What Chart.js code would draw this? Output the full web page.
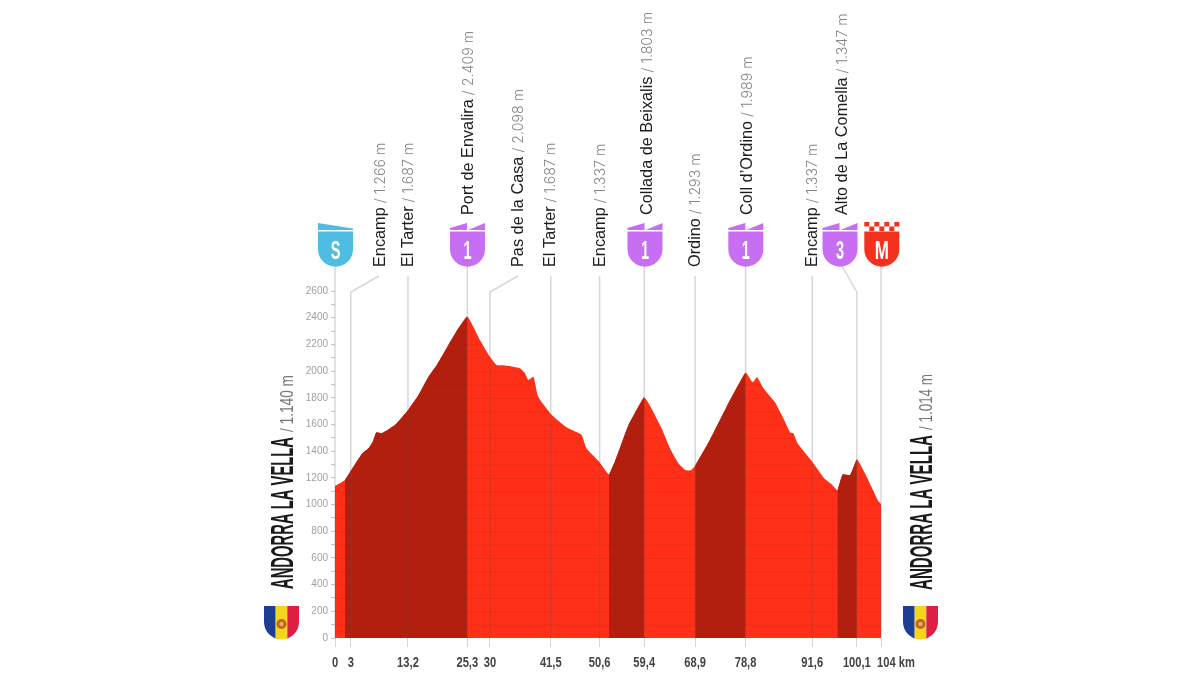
<!DOCTYPE html>
<html>
<head>
<meta charset="utf-8">
<title>Andorra la Vella - Andorra la Vella</title>
<script src="https://cdn.jsdelivr.net/npm/chart.js@4/dist/chart.umd.min.js"></script>
<style>
  html, body { margin: 0; padding: 0; background: #fff; overflow: hidden; }
  canvas { display: block; }
</style>
</head>
<body>
<canvas id="profile" width="1200" height="675"></canvas>
<script>
// profile
const profileKm = [0, 0.3, 1.9, 3.2, 5.1, 6.35, 7.2, 7.9, 8.9, 11.4, 14, 15.9, 17.8, 19.4, 21.6, 23.5, 25.2,
  27.6, 29.5, 30.8, 32.1, 35.2, 36.2, 36.8, 37.8, 38.7, 41.3, 44.1, 46.3, 47, 47.9, 50.3, 52.2,
  53.3, 54.6, 55.9, 57.1, 58.9, 60.6, 62.2, 63.8, 65.4, 66.7, 67.75, 68.6, 71.4, 74.6, 78.2,
  79.55, 80.4, 81.6, 83.8, 85.4, 86.7, 87.3, 88.1, 90.8, 93.3, 94.6, 95.7, 96.7, 98.1, 99.4, 100.95, 103.5, 104];
const elevation = [1140, 1146, 1184, 1264, 1379, 1421, 1471, 1541, 1534, 1596, 1713, 1821, 1958, 2046, 2195, 2320, 2409,
  2233, 2108, 2046, 2043, 2021, 1983, 1933, 1958, 1808, 1671, 1579, 1538, 1521, 1421, 1321, 1226,
  1321, 1459, 1596, 1684, 1803, 1696, 1571, 1421, 1309, 1259, 1256, 1291, 1484, 1733, 1989,
  1916, 1953, 1871, 1766, 1646, 1539, 1534, 1459, 1326, 1191, 1152, 1107, 1226, 1221, 1340, 1234, 1025, 1005];

// dark stretches: the categorised climbs [from, to]
const climbStart = [1.9, 52.2, 68.6, 95.7];
const climbEnd = [25.2, 58.9, 78.2, 99.4];

// km marks. The printed axis is not quite linear, so positions and labels are kept apart
const markKm = [0, 3, 13.9, 25.2, 29.5, 41.1, 50.4, 58.9, 68.6, 78.2, 90.9, 99.4, 104];
const markLabels = ['0', '3', '13,2', '25,3', '30', '41,5', '50,6', '59,4', '68,9', '78,8', '91,6', '100,1', '104 km'];

const placeNames = ['Encamp', 'El Tarter', 'Port de Envalira', 'Pas de la Casa', 'El Tarter', 'Encamp',
  'Collada de Beixalis', 'Ordino', 'Coll d’Ordino', 'Encamp', 'Alto de La Comella'];
const placeHeights = ['/ 1.266 m', '/ 1.687 m', '/ 2.409 m', '/ 2.098 m', '/ 1.687 m', '/ 1.337 m',
  '/ 1.803 m', '/ 1.293 m', '/ 1.989 m', '/ 1.337 m', '/ 1.347 m'];
const placeKm = [3, 13.9, 25.2, 29.5, 41.1, 50.4, 58.9, 68.6, 78.2, 90.9, 99.4];

const startName = 'ANDORRA LA VELLA';
const startHeight = '/ 1.140 m';
const finishName = 'ANDORRA LA VELLA';
const finishHeight = '/ 1.014 m';

const badgeLetters = ['S', '1', '1', '1', '3', 'M'];

const RED = '#ff2f18';
const DARK = '#b21f0f';
const PURPLE = '#c86ef2';
const BLUE = '#4fbde2';
const BADGE_RED = '#f4311d';

const SANS = '"Liberation Sans", Arial, sans-serif';
const LIGHT = 'Inter, "Liberation Sans", sans-serif';

// where the text sits in the picture (baseline x, start y)
const labelX = [385, 412.7, 473, 523, 555, 605, 651.7, 700, 751.7, 817, 846.7];
const labelY = [267, 267, 215, 267, 267, 267, 215, 267, 215, 267, 215];
const badgeX = [335.5, 467.5, 645, 745.8, 840, 881.8];

function points(from, to) {
  const out = [];
  profileKm.forEach((km, i) => {
    if (km >= from && km <= to) out.push({ x: km, y: elevation[i] });
  });
  return out;
}

// vertical text, reading upwards
function upText(ctx, text, x, y, font, color, length) {
  ctx.save();
  ctx.translate(x, y);
  ctx.rotate(-Math.PI / 2);
  ctx.font = font;
  ctx.fillStyle = color;
  ctx.textAlign = 'left';
  ctx.textBaseline = 'alphabetic';
  if (length) ctx.scale(length / ctx.measureText(text).width, 1);
  ctx.fillText(text, 0, 0);
  ctx.restore();
}

function shieldBody(ctx, cx, top) {
  const r = 17.5;
  const straight = 249.2;
  ctx.beginPath();
  ctx.moveTo(cx - r, top);
  ctx.lineTo(cx + r, top);
  ctx.lineTo(cx + r, straight);
  ctx.arc(cx, straight, r, 0, Math.PI);
  ctx.closePath();
}

function drawBadge(ctx, cx, letter) {
  const r = 17.5;
  const color = letter === 'S' ? BLUE : letter === 'M' ? BADGE_RED : PURPLE;
  ctx.fillStyle = color;
  shieldBody(ctx, cx, 231.5);
  ctx.fill();

  if (letter === 'S') {
    ctx.beginPath();
    ctx.moveTo(cx - r, 223);
    ctx.lineTo(cx + r, 228.5);
    ctx.lineTo(cx + r, 230);
    ctx.lineTo(cx - r, 230);
    ctx.closePath();
    ctx.fill();
  } else if (letter === 'M') {
    // checkered strip
    const size = 5;
    for (let row = 0; row < 2; row++) {
      for (let col = 0; col < 7; col++) {
        if ((row + col) % 2 === 0) {
          ctx.fillRect(cx - r + col * size, 222 + row * 4.5, size, 4.5);
        }
      }
    }
  } else {
    ctx.beginPath();
    ctx.moveTo(cx - r, 228);
    ctx.lineTo(cx - 0.5, 223);
    ctx.lineTo(cx - 0.5, 230);
    ctx.lineTo(cx + 0.5, 230);
    ctx.lineTo(cx + r, 223);
    ctx.lineTo(cx + r, 230);
    ctx.lineTo(cx - r, 230);
    ctx.closePath();
    ctx.fill();
  }

  ctx.save();
  ctx.translate(cx, 259);
  ctx.font = 'bold 25px ' + SANS;
  ctx.fillStyle = '#fff';
  ctx.textAlign = 'center';
  ctx.textBaseline = 'alphabetic';
  ctx.scale(letter === 'M' ? 0.68 : 0.58, 1);
  ctx.fillText(letter, 0, 0);
  ctx.restore();
}

function drawFlag(ctx, left) {
  const w = 35, top = 606, straight = 622;
  ctx.save();
  ctx.beginPath();
  ctx.moveTo(left, top);
  ctx.lineTo(left + w, top);
  ctx.lineTo(left + w, straight);
  ctx.arc(left + w / 2, straight, w / 2, 0, Math.PI);
  ctx.closePath();
  ctx.clip();
  ctx.fillStyle = '#1c3f94';
  ctx.fillRect(left, top, w / 3, 36);
  ctx.fillStyle = '#f7d51d';
  ctx.fillRect(left + w / 3, top, w / 3, 36);
  ctx.fillStyle = '#de1f45';
  ctx.fillRect(left + 2 * w / 3, top, w / 3, 36);
  ctx.fillStyle = '#c0622a';
  ctx.beginPath();
  ctx.arc(left + w / 2, 624, 5, 0, Math.PI * 2);
  ctx.fill();
  ctx.fillStyle = '#e8b04a';
  ctx.beginPath();
  ctx.arc(left + w / 2, 624, 2.2, 0, Math.PI * 2);
  ctx.fill();
  ctx.restore();
}

const profileDecor = {
  id: 'profileDecor',
  afterDatasetsDraw(chart) {
    const ctx = chart.ctx;
    const xs = chart.scales.x;
    const ys = chart.scales.y;

    // faint height bands, only on top of the filled profile
    ctx.save();
    ctx.globalCompositeOperation = 'source-atop';
    ctx.fillStyle = 'rgba(110, 10, 0, 0.10)';
    ys.ticks.forEach(t => {
      ctx.fillRect(xs.left, ys.getPixelForValue(t.value), xs.width, 1);
    });
    ctx.restore();

    // leader lines
    ctx.save();
    ctx.strokeStyle = 'rgba(95, 85, 85, 0.24)';
    ctx.lineWidth = 1.5;
    const base = ys.getPixelForValue(0);
    const line = (pts) => {
      ctx.beginPath();
      pts.forEach((p, i) => i ? ctx.lineTo(p[0], p[1]) : ctx.moveTo(p[0], p[1]));
      ctx.stroke();
    };
    placeKm.forEach((km, i) => {
      const x = xs.getPixelForValue(km);
      if (i === 0) line([[x, base], [x, 292], [379, 276]]);
      else if (i === 3) line([[x, base], [x, 292], [518, 276]]);
      else if (i === 10) line([[x, base], [x, 292], [842, 266]]);
      else if (i === 2 || i === 6 || i === 8) line([[x, base], [x, 266]]);
      else line([[x, base], [x, 276]]);
    });
    // start and finish stems
    line([[xs.getPixelForValue(0), base], [xs.getPixelForValue(0), 266]]);
    line([[xs.getPixelForValue(104), base], [xs.getPixelForValue(104), 266]]);
    ctx.restore();

    // badges
    badgeLetters.forEach((letter, i) => drawBadge(ctx, badgeX[i], letter));

    // place names with height
    placeNames.forEach((name, i) => {
      const font = '16.3px ' + SANS;
      ctx.font = font;
      const w = ctx.measureText(name).width;
      upText(ctx, name, labelX[i], labelY[i], font, '#1d1d1d');
      upText(ctx, placeHeights[i], labelX[i], labelY[i] - w - 4, '300 14.2px ' + LIGHT, '#858585');
    });

    // start and finish
    upText(ctx, startName, 293, 589, 'bold 32px ' + SANS, '#1a1a1a', 152);
    upText(ctx, startHeight, 293, 432, '19px ' + SANS, '#777', 57);
    upText(ctx, finishName, 932, 590, 'bold 32px ' + SANS, '#1a1a1a', 155);
    upText(ctx, finishHeight, 932, 430, '19px ' + SANS, '#777', 56);

    drawFlag(ctx, 264);
    drawFlag(ctx, 903);

    // km labels: the condensed type needs a squeeze the axis itself cannot do
    ctx.save();
    ctx.font = 'bold 15.5px ' + SANS;
    ctx.fillStyle = '#444';
    ctx.textBaseline = 'alphabetic';
    markKm.forEach((km, i) => {
      const last = i === markKm.length - 1;
      ctx.save();
      ctx.translate(xs.getPixelForValue(km) + (last ? -4 : 0), 667);
      ctx.scale(0.72, 1);
      ctx.textAlign = last ? 'left' : 'center';
      ctx.fillText(markLabels[i], 0, 0);
      ctx.restore();
    });
    ctx.restore();
  }
};

const datasets = [{
  data: points(0, 104),
  parsing: false,
  borderWidth: 0,
  pointRadius: 0,
  tension: 0.15,
  backgroundColor: RED,
  fill: 'origin',
  order: 5
}];
climbStart.forEach((from, i) => {
  datasets.push({
    data: points(from, climbEnd[i]),
    parsing: false,
    borderWidth: 0,
    pointRadius: 0,
    tension: 0.15,
    backgroundColor: DARK,
    fill: 'origin',
    order: 1
  });
});

new Chart(document.getElementById('profile'), {
  type: 'line',
  data: { datasets },
  plugins: [profileDecor],
  options: {
    responsive: false,
    animation: false,
    devicePixelRatio: 1,
    layout: { padding: { left: 305, right: 319, top: 291, bottom: 0 } },
    plugins: { legend: { display: false }, tooltip: { enabled: false } },
    scales: {
      x: {
        type: 'linear',
        min: 0,
        max: 104,
        afterFit: scale => { scale.height = 37; },
        afterBuildTicks: scale => { scale.ticks = markKm.map(v => ({ value: v })); },
        grid: { drawOnChartArea: false, tickLength: 9, tickColor: '#d4d4d4' },
        border: { display: false },
        ticks: { display: false }
      },
      y: {
        min: 0,
        max: 2600,
        afterFit: scale => { scale.width = 30; },
        grid: { drawOnChartArea: false, tickLength: 4, tickColor: '#c4c4c4' },
        border: { display: false },
        ticks: {
          stepSize: 100,
          autoSkip: false,
          padding: 3,
          color: '#a0a0a0',
          font: { family: SANS, size: 10 },
          callback: value => (value % 200 === 0 ? String(value) : '')
        }
      }
    }
  }
});
</script>
</body>
</html>
